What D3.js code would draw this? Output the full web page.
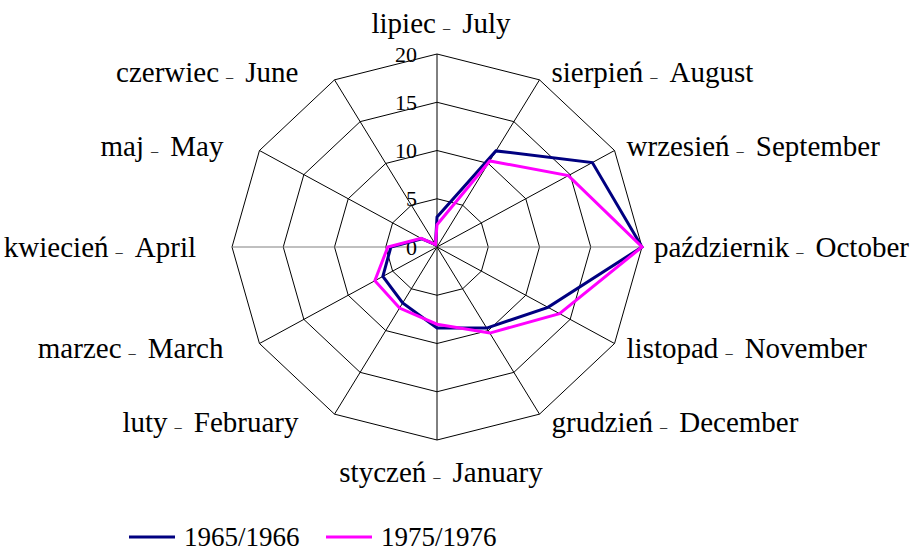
<!DOCTYPE html>
<html>
<head>
<meta charset="utf-8">
<script src="https://cdn.jsdelivr.net/npm/d3@7"></script>
<style>
  body { margin: 0; background: #fff; }
</style>
</head>
<body>
<svg id="chart" width="916" height="551" font-family="'Liberation Serif', 'Times New Roman', Times, 'DejaVu Serif', serif"></svg>
<script>
// months, clockwise from the top
var monthsPl = ["lipiec", "sierpień", "wrzesień", "październik", "listopad", "grudzień",
                "styczeń", "luty", "marzec", "kwiecień", "maj", "czerwiec"];
var monthsEn = ["July", "August", "September", "October", "November", "December",
                "January", "February", "March", "April", "May", "June"];

var seriesNames = ["1965/1966", "1975/1976"];
var values1965 = [3.1, 11.5, 17.5, 20, 12.5, 9.7, 8.4, 6.7, 6.1, 4.5, 1.7, 0.3];
var values1975 = [2.3, 10.3, 14.8, 20, 13.8, 10.3, 8.0, 7.3, 7.0, 4.8, 1.8, 0.3];

var tickValues = [0, 5, 10, 15, 20];

var colors = ["#000080", "#ff00ff"];

var cx = 437, cy = 247
  , maxValue = 20
  , labelSize = 29
  , fontFamily = "'Liberation Serif', 'Times New Roman', Times, serif"
  ;

var svg = d3.select("#chart");

// picture is a bit wider than tall, so two radial scales
var rX = d3.scaleLinear().domain([0, maxValue]).range([0, 205]);
var rY = d3.scaleLinear().domain([0, maxValue]).range([0, 193]);
var angle = d3.scaleLinear().domain([0, monthsPl.length]).range([0, 2 * Math.PI]);

function pt(i, v) {
    var a = angle(i);
    return [cx + rX(v) * Math.sin(a), cy - rY(v) * Math.cos(a)];
}

var grid = svg.append("g").attr("class", "grid");

// rings
tickValues.filter(function(t) { return t > 0; }).forEach(function(t) {
    var ring = monthsPl.map(function(m, i) { return pt(i, t); });
    grid.append("path")
        .attr("d", d3.line()(ring) + "Z")
        .attr("fill", "none")
        .attr("stroke", "#000")
        .attr("stroke-width", 1);
});

// spokes
grid.selectAll("line.spoke")
    .data(monthsPl)
    .enter().append("line")
        .attr("class", "spoke")
        .attr("x1", cx).attr("y1", cy)
        .attr("x2", function(d, i) { return pt(i, maxValue)[0]; })
        .attr("y2", function(d, i) { return pt(i, maxValue)[1]; })
        .attr("stroke", function(d, i) { return i % 3 === 0 && i % 6 !== 0 ? "#808080" : "#000"; })
        .attr("stroke-width", 1);

// tick labels on the vertical axis
svg.append("g").selectAll("text")
    .data(tickValues)
    .enter().append("text")
        .attr("x", cx - 20)
        .attr("y", function(d) { return cy - rY(d); })
        .attr("dy", "0.35em")
        .attr("text-anchor", "end")
        .attr("font-family", fontFamily)
        .attr("font-size", 22)
        .text(function(d) { return d; });

// series lines
var allSeries = [values1965, values1975];
var line = d3.line().curve(d3.curveLinearClosed);

svg.append("g").selectAll("path")
    .data(allSeries)
    .enter().append("path")
        .attr("d", function(vals) { return line(vals.map(function(v, i) { return pt(i, v); })); })
        .attr("fill", "none")
        .attr("stroke", function(d, i) { return colors[i]; })
        .attr("stroke-width", 3)
        .attr("stroke-linejoin", "miter");

// category labels
svg.append("g").selectAll("text")
    .data(monthsPl)
    .enter().append("text")
        .attr("font-family", fontFamily)
        .attr("font-size", labelSize)
        .each(function(d, i) {
            var p = pt(i, maxValue)
              , a = angle(i)
              , s = Math.sin(a)
              , c = Math.cos(a)
              , x, y, anchor;
            if (Math.abs(s) < 0.01) {
                anchor = "middle";
                x = p[0] + 4;
                y = c > 0 ? p[1] - 21 : p[1] + 42;
            } else {
                anchor = s > 0 ? "start" : "end";
                x = s > 0 ? p[0] + 12 : p[0] - 36;
                y = p[1] + 10 - 9 * c;
            }
            var t = d3.select(this)
                .attr("x", x)
                .attr("y", y)
                .attr("text-anchor", anchor);
            t.append("tspan").text(d);
            t.append("tspan").attr("dx", 7).attr("font-size", labelSize / 2).text("–");
            t.append("tspan").attr("dx", 12).text(monthsEn[i]);
        });

// legend
var legend = svg.append("g").attr("transform", "translate(129,537)");
var item = legend.selectAll("g")
    .data(seriesNames)
    .enter().append("g")
        .attr("transform", function(d, i) { return "translate(" + (i * 197) + ",0)"; });

item.append("line")
    .attr("x1", 0).attr("x2", 46)
    .attr("y1", 0).attr("y2", 0)
    .attr("stroke", function(d, i) { return colors[i]; })
    .attr("stroke-width", 3);

item.append("text")
    .attr("x", 55)
    .attr("y", 9)
    .attr("font-family", fontFamily)
    .attr("font-size", 27)
    .text(function(d) { return d; });
</script>
</body>
</html>
